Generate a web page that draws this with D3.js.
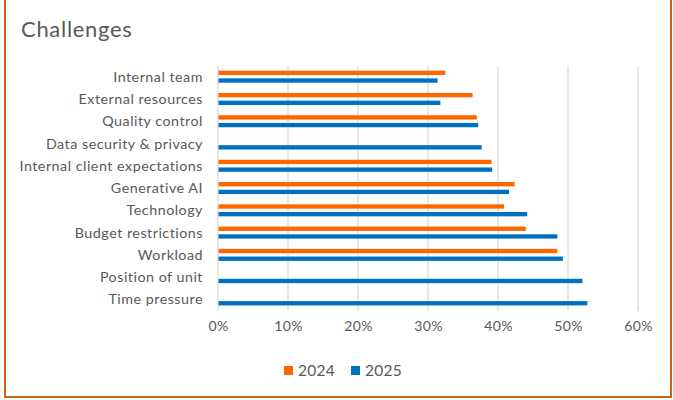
<!DOCTYPE html>
<html>
<head>
<meta charset="utf-8">
<script src="https://cdn.jsdelivr.net/npm/d3@7"></script>
<style>
  html, body { margin: 0; padding: 0; background: #fff; }
  svg { display: block; }
  text { font-family: Lato, "Liberation Sans", sans-serif; }
</style>
</head>
<body>
<svg id="chart" width="673" height="400"></svg>
<script>
// Challenges reported, share of respondents (top to bottom)
const categories = [
  "Internal team",
  "External resources",
  "Quality control",
  "Data security & privacy",
  "Internal client expectations",
  "Generative AI",
  "Technology",
  "Budget restrictions",
  "Workload",
  "Position of unit",
  "Time pressure"
];
const values2024 = [0.324, 0.363, 0.369, null, 0.390, 0.423, 0.408, 0.439, 0.484, null, null];
const values2025 = [0.313, 0.317, 0.371, 0.376, 0.391, 0.415, 0.441, 0.484, 0.492, 0.520, 0.527];
const seriesNames = ["2024", "2025"];
const seriesColors = ["#FF6600", "#0070C0"];
const xTicks = [0, 0.1, 0.2, 0.3, 0.4, 0.5, 0.6];

const svg = d3.select("#chart");
const textColor = "#595959";

// frame
svg.append("rect")
  .attr("x", 5).attr("y", -2)
  .attr("width", 666).attr("height", 399)
  .attr("fill", "#fff")
  .attr("stroke", "#C8651B")
  .attr("stroke-width", 2);

// title
svg.append("text")
  .attr("x", 21).attr("y", 37)
  .attr("font-size", 22)
  .attr("letter-spacing", 0.7)
  .attr("fill", textColor)
  .text("Challenges");

const x = d3.scaleLinear().domain([0, 0.6]).range([218, 638]);
const y = d3.scaleBand().domain(categories).range([66, 311]);
const step = y.step();

// vertical gridlines
svg.append("g")
  .selectAll("line")
  .data(xTicks)
  .join("line")
  .attr("x1", d => x(d)).attr("x2", d => x(d))
  .attr("y1", 66).attr("y2", 311)
  .attr("stroke", "#D9D9D9")
  .attr("stroke-width", 1.2);

// x axis tick labels
const xAxis = d3.axisBottom(x)
  .tickValues(xTicks)
  .tickFormat(d3.format(".0%"))
  .tickSize(0)
  .tickPadding(0);
const gx = svg.append("g")
  .attr("transform", "translate(0,321)")
  .call(xAxis);
gx.select(".domain").remove();
gx.selectAll("text")
  .attr("font-size", 14)
  .attr("letter-spacing", 0.3)
  .attr("fill", textColor)
  .attr("dy", "0.71em")
  .style("font-family", "Lato, 'Liberation Sans', sans-serif");

// category labels
const yAxis = d3.axisLeft(y).tickSize(0).tickPadding(0);
const gy = svg.append("g")
  .attr("transform", "translate(203,0)")
  .call(yAxis);
gy.select(".domain").remove();
gy.selectAll("text")
  .attr("font-size", 14.3)
  .attr("letter-spacing", 0.5)
  .attr("fill", textColor)
  .style("font-family", "Lato, 'Liberation Sans', sans-serif");

// bars
const series = [values2024, values2025];
const offsets = [0.21, 0.555];
const barH = 0.195 * step;
series.forEach((vals, si) => {
  svg.append("g")
    .selectAll("rect")
    .data(categories.map((c, i) => ({ c, v: vals[i] })).filter(d => d.v != null))
    .join("rect")
    .attr("x", x(0) + 0.5)
    .attr("y", d => y(d.c) + offsets[si] * step)
    .attr("width", d => x(d.v) - x(0))
    .attr("height", barH)
    .attr("fill", seriesColors[si]);
});

// legend
const legendX = [284, 351];
const lg = svg.append("g");
seriesNames.forEach((name, i) => {
  lg.append("rect")
    .attr("x", legendX[i]).attr("y", 366)
    .attr("width", 9).attr("height", 9)
    .attr("fill", seriesColors[i]);
  lg.append("text")
    .attr("x", legendX[i] + 14).attr("y", 376)
    .attr("font-size", 15.5)
    .attr("letter-spacing", 0.3)
    .attr("fill", textColor)
    .text(name);
});
</script>
</body>
</html>
